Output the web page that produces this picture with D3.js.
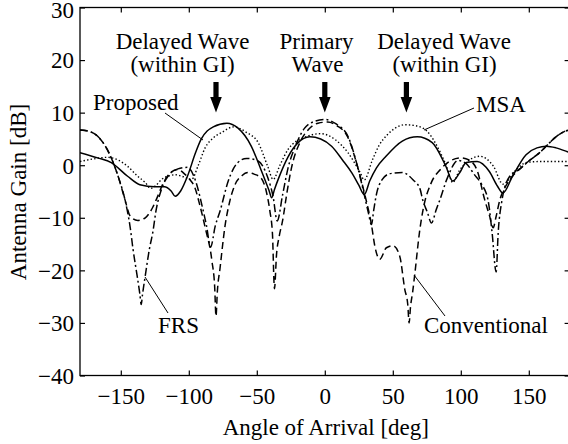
<!DOCTYPE html>
<html>
<head>
<meta charset="utf-8">
<script src="https://cdn.jsdelivr.net/npm/d3@7"></script>
<style>
html,body{margin:0;padding:0;background:#fff;}
svg{display:block;}
text{font-family:"Liberation Serif","Times New Roman",Times,serif;fill:#000;}
</style>
</head>
<body>
<svg id="chart" width="568" height="444"></svg>
<script>
// ---- data (angle [deg], gain [dB]) ----
const xTicks = [-150, -100, -50, 0, 50, 100, 150];
const yTicks = [-40, -30, -20, -10, 0, 10, 20, 30];

const proposed = [[-180,2.4],[-167,1.4],[-157,0.5],[-145,-2.1],[-136,-3.7],[-125,-4.1],[-118,-4.1],[-113,-4.9],[-110,-5.9],[-106,-4.9],[-101,-2.1],[-95,2.4],[-91,4.9],[-82,7.3],[-72,8.0],[-64,7.1],[-54,3.6],[-47,-0.8],[-41,-4.8],[-39,-6.2],[-37,-4.6],[-34,-2.5],[-27,1.6],[-20,4.2],[-11,5.4],[-3,5.0],[5,3.6],[13,1.0],[20,-1.5],[25,-3.8],[29,-5.6],[33,-3.0],[38,-0.5],[45,1.7],[57,4.6],[68,5.4],[79,4.3],[89,-0.2],[94,-3.0],[99,-1.5],[104,0.5],[112,0.7],[121,-1.2],[127,-4.0],[131,-5.3],[138,-2.1],[148,2.0],[156,3.3],[163,3.6],[170,3.3],[178,2.6],[180,2.4]];

const msa = [[-180,0.7],[-170,1.2],[-160,1.5],[-152,1.0],[-145,-0.2],[-138,-2.0],[-132,-3.3],[-128,-4.4],[-124,-3.8],[-120,-2.7],[-114,-2.0],[-110,-1.8],[-104,-2.2],[-98,-2.7],[-93,0.0],[-88,3.3],[-82,5.2],[-76,6.2],[-67,7.3],[-58,6.3],[-49,4.3],[-42,-0.2],[-38,-2.7],[-33,0.0],[-27,3.0],[-15,5.3],[-3,6.0],[8,4.8],[17,2.4],[26,-1.4],[29,-2.8],[35,1.0],[40,3.8],[46,5.8],[52,7.1],[59,7.7],[67,7.5],[75,6.5],[85,2.4],[90,-0.5],[94,-3.3],[99,-1.0],[104,0.5],[114,1.7],[124,-0.2],[131,-3.6],[141,-0.8],[148,0.5],[158,0.7],[170,0.7],[180,0.7]];

const conventional = [[-180,6.7],[-174,6.5],[-167,5.5],[-160,3.0],[-152,-2.1],[-147,-6.5],[-143,-9.7],[-137.5,-10.5],[-132,-10.0],[-126.5,-8.0],[-124,-6.6],[-118,-3.0],[-113,-1.3],[-108,-0.8],[-103,-1.7],[-99,-2.8],[-95.6,-4.2],[-92,-7.5],[-88,-11.8],[-83,-18.2],[-81,-23],[-80,-28.7],[-79,-24],[-77,-19.5],[-73.5,-11.8],[-70,-7.0],[-66,-3.7],[-61,-2.0],[-56.6,-1.4],[-52,-1.7],[-47,-2.4],[-43,-5.0],[-40.4,-8.7],[-38.5,-13.0],[-37,-23.5],[-35.5,-17.0],[-33.5,-13.5],[-31,-10.5],[-28,-5.5],[-24.5,-0.5],[-18,4.5],[-12,6.8],[-5,8.0],[2,8.2],[9,7.5],[17,5.3],[24,-0.2],[29.4,-5.6],[34.3,-11.3],[36.8,-15.4],[40.4,-17.9],[45.3,-15.7],[50.2,-15.3],[55.1,-17.3],[58.8,-23.6],[61,-26.5],[62,-30],[63,-27],[64.5,-24.3],[66,-21.1],[69.9,-12.2],[72.3,-8.4],[78,-3.5],[85,-0.8],[92,0.8],[100,1.4],[106,1.0],[112,-1.0],[117.6,-6.6],[121,-9.5],[123.8,-11.9],[126,-9.7],[128.7,-6.6],[133,-4.0],[138,-2.1],[143,-0.8],[150,0.8],[158,2.4],[165,4.2],[170,5.4],[176,6.4],[180,6.7]];

const frs = [[-180,6.7],[-174,6.5],[-167,5.5],[-160,3.0],[-152,-2.1],[-147,-6.5],[-143,-12],[-141,-16],[-138,-21],[-136,-24.5],[-135,-26.5],[-134,-24.5],[-132,-21],[-129,-16],[-126.5,-12.8],[-124,-8.5],[-120,-4.5],[-115,-2.0],[-108,-0.7],[-101,-0.4],[-95,-3.0],[-90,-8.0],[-87,-11.5],[-84,-15.6],[-80.5,-11.5],[-77,-8.7],[-71,-3.0],[-64,0.5],[-57.5,1.3],[-49,0.8],[-42,-2.3],[-38,-6.0],[-35,-10.6],[-31,-5.6],[-27,-0.5],[-22,3.4],[-15,7.0],[-8,8.3],[0,8.7],[8,7.9],[17,5.5],[24,-0.2],[29,-5.6],[32,-9.0],[34.3,-11.3],[36,-8.5],[38,-5.5],[42,-2.8],[48,-1.6],[57,-1.4],[65,-2.8],[70,-4.5],[72,-6.6],[75.5,-9.0],[78.4,-11.0],[82,-8.4],[84.6,-6.6],[90,-2.5],[98,0.9],[104,0.3],[110,-1.8],[115,-3.5],[120,-6.6],[123,-12.8],[126,-20.3],[127.5,-12.8],[130,-7.1],[136,-2.1],[143,-0.8],[150,0.8],[158,2.4],[165,4.2],[170,5.4],[176,6.4],[180,6.7]];

const seriesNames = ["Proposed", "MSA", "Conventional", "FRS"];
const arrowAngles = [-80, 0, 60];

// ---- layout ----
const svg = d3.select("#chart");
const L = 80, R = 569.6, T = 7.5, B = 375.5;
const x = d3.scaleLinear().domain([-180, 180]).range([L, R]);
const y = d3.scaleLinear().domain([-40, 30]).range([B, T]);

const styles = {
  "Proposed":     {dash: null,          w: 1.5},
  "MSA":          {dash: "1.4,2.2",     w: 1.4},
  "Conventional": {dash: "7,4",         w: 1.5},
  "FRS":          {dash: "8,3,2,3",     w: 1.5}
};
const seriesData = {"Proposed": proposed, "MSA": msa, "Conventional": conventional, "FRS": frs};

svg.append("clipPath").attr("id", "clip")
  .append("rect").attr("x", L).attr("y", T).attr("width", R - L).attr("height", B - T);

const line = d3.line().x(d => x(d[0])).y(d => y(d[1])).curve(d3.curveMonotoneX);

const gLines = svg.append("g").attr("clip-path", "url(#clip)");
seriesNames.forEach(n => {
  gLines.append("path")
    .datum(seriesData[n])
    .attr("d", line)
    .attr("fill", "none")
    .attr("stroke", "#000")
    .attr("stroke-width", styles[n].w)
    .attr("stroke-dasharray", styles[n].dash)
    .attr("stroke-linejoin", "round");
});

// ---- axes ----
const fs = 23;
const gx = svg.append("g").attr("transform", `translate(0,${B})`)
  .call(d3.axisBottom(x).tickValues(xTicks).tickSizeInner(-5).tickSizeOuter(0).tickFormat(d3.format("d")));
gx.selectAll("text").attr("y", 28.5).attr("dy", null).style("font-size", fs + "px");
svg.append("g").attr("transform", `translate(0,${T})`)
  .call(d3.axisTop(x).tickValues(xTicks).tickSizeInner(-5).tickSizeOuter(0).tickFormat(""));
const gy = svg.append("g").attr("transform", `translate(${L},0)`)
  .call(d3.axisLeft(y).tickValues(yTicks).tickSizeInner(-5).tickSizeOuter(0).tickPadding(6).tickFormat(d3.format("d")));
gy.selectAll("text").attr("dy", d => d === 30 ? "0.42em" : "0.34em").style("font-size", fs + "px");
svg.append("g").attr("transform", `translate(${R},0)`)
  .call(d3.axisRight(y).tickValues(yTicks).tickSizeInner(-5).tickSizeOuter(0).tickFormat(""));
svg.selectAll(".domain").remove();
svg.selectAll(".tick line").attr("stroke", "#000").attr("stroke-width", 1.2);
svg.selectAll(".tick text").attr("font-family", null);

svg.append("rect").attr("x", L).attr("y", T).attr("width", R - L).attr("height", B - T)
  .attr("fill", "none").attr("stroke", "#000").attr("stroke-width", 1.3);

svg.append("text").attr("x", (L + 569.6) / 2 + 1).attr("y", 435)
  .attr("text-anchor", "middle").style("font-size", fs + "px").text("Angle of Arrival [deg]");
svg.append("text").attr("transform", "translate(26,192) rotate(-90)")
  .attr("text-anchor", "middle").style("font-size", fs + "px").text("Antenna Gain [dB]");

// ---- annotations ----
function arrow(cx) {
  const p = d3.path();
  p.moveTo(cx - 2.6, 82); p.lineTo(cx + 2.6, 82); p.lineTo(cx + 2.6, 97);
  p.lineTo(cx + 5.8, 97); p.lineTo(cx, 112.5); p.lineTo(cx - 5.8, 97);
  p.lineTo(cx - 2.6, 97); p.closePath();
  svg.append("path").attr("d", p.toString()).attr("fill", "#000");
}
arrowAngles.forEach(a => arrow(x(a)));

function label(txt, px, py, anchor) {
  svg.append("text").attr("x", px).attr("y", py).attr("text-anchor", anchor || "middle")
    .style("font-size", fs + "px").text(txt);
}
label("Delayed Wave", 182.5, 49);
label("(within GI)", 182.5, 72);
label("Primary", 316.5, 49);
label("Wave", 317.5, 72);
label("Delayed Wave", 444, 49);
label("(within GI)", 444.5, 72);

label("Proposed", 93, 110, "start");
label("MSA", 476, 112, "start");
label("FRS", 158, 333, "start");
label("Conventional", 424, 333, "start");

function leader(x1, y1, x2, y2) {
  svg.append("line").attr("x1", x1).attr("y1", y1).attr("x2", x2).attr("y2", y2)
    .attr("stroke", "#000").attr("stroke-width", 1);
}
leader(165, 113, 203, 140);
leader(474, 108, 424, 130);
leader(168, 313, 145, 277);
leader(445, 316, 414, 275);
</script>
</body>
</html>
